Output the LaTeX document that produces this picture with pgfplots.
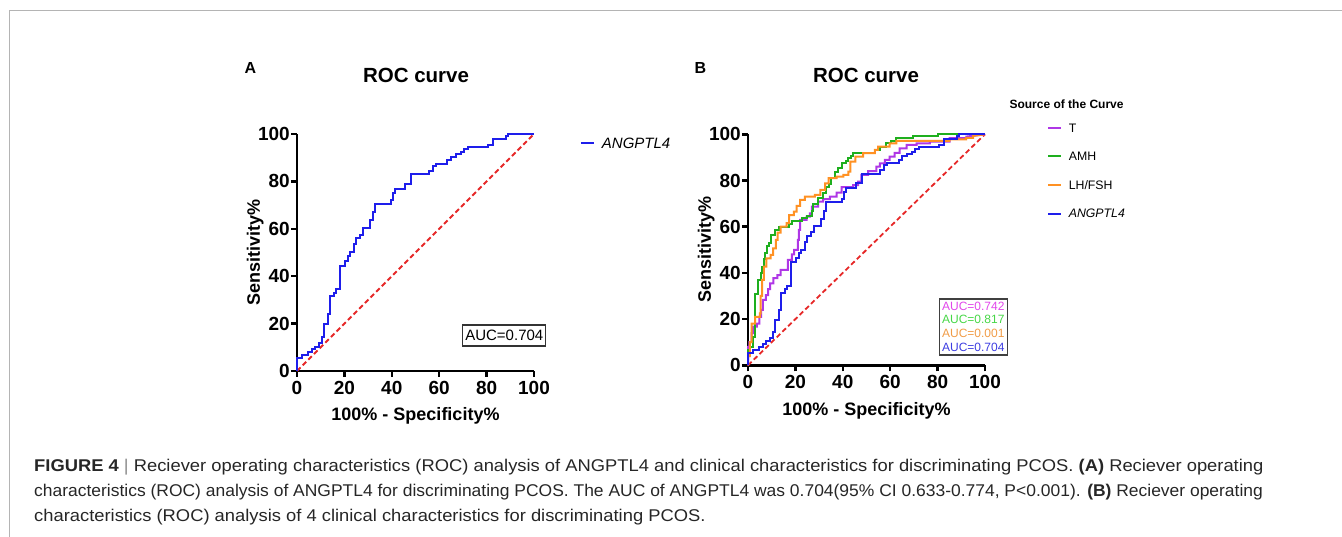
\documentclass[border=0pt]{standalone}
\usepackage{graphicx}
\usepackage{pgfplots}
\usepackage{pgfplotstable}
\pgfplotsset{compat=1.18}
\usepackage{fontspec}
\setmainfont{Liberation Sans}
\newfontfamily\capfont[FakeStretch=1.08]{Liberation Sans}
\definecolor{cBlue}{RGB}{30,30,235}
\definecolor{cT}{RGB}{175,55,230}
\definecolor{cAMH}{RGB}{30,175,30}
\definecolor{cLH}{RGB}{255,145,35}
\definecolor{cRed}{RGB}{230,40,40}
\definecolor{tT}{RGB}{225,70,235}
\definecolor{tAMH}{RGB}{70,215,70}
\definecolor{tLH}{RGB}{240,155,70}
\definecolor{tBlue}{RGB}{60,60,225}
\definecolor{frame}{RGB}{180,180,180}

\pgfplotstableread{
x y
0 0
100 100
}\diag

\pgfplotstableread{
x y
0 0
0 5.3
2.1 5.3
2.1 6.8
4.5 6.8
4.5 8.1
6.3 8.1
6.3 9.1
7.7 9.1
7.7 10.3
9.1 10.3
9.1 11.7
10.5 11.7
10.5 14.5
11.5 14.5
11.5 19.8
12.9 19.8
12.9 24
14.1 24
14.1 31.5
15.5 31.5
15.5 33
16.4 33
16.4 34.5
18.3 34.5
18.3 44.5
20.3 44.5
20.3 46.5
21.5 46.5
21.5 48.5
22.5 48.5
22.5 50
24 50
24 53.5
25 53.5
25 56
26.5 56
26.5 57.5
28 57.5
28 60.5
31 60.5
31 63.5
32 63.5
32 67
33 67
33 70.5
39.8 70.5
39.8 72
40.5 72
40.5 75
41.5 75
41.5 76.8
45.5 76.8
45.5 78.8
48 78.8
48 83
55.5 83
55.5 84.5
57.5 84.5
57.5 86.5
58.5 86.5
58.5 87.5
63.5 87.5
63.5 89
64.8 89
64.8 90.5
67 90.5
67 91.5
69 91.5
69 92.5
70.5 92.5
70.5 93.5
72 93.5
72 94.5
80.5 94.5
80.5 95.5
82.5 95.5
82.5 98
88 98
88 99.3
89 99.3
89 100
100 100
}\angptl

\pgfplotstableread{
x y
0 0
0 6.6
1 6.6
1 8
2.2 8
2.2 12.4
2.8 12.4
2.8 25
3 25
3 31
4.4 31
4.4 37
5.3 37
5.3 40
5.8 40
5.8 42.7
6.8 42.7
6.8 46
7.2 46
7.2 48.5
8.2 48.5
8.2 51.5
8.8 51.5
8.8 53
9.8 53
9.8 56.4
11.4 56.4
11.4 58.6
13 58.6
13 60
17.5 60
17.5 61
18.4 61
18.4 62.5
22.6 62.5
22.6 63.6
24.7 63.6
24.7 64.6
26.8 64.6
26.8 67
27.5 67
27.5 70
29.5 70
29.5 72.3
31.7 72.3
31.7 74.5
33 74.5
33 77
34 77
34 78.5
35 78.5
35 81
36.5 81
36.5 83.8
38 83.8
38 85.5
39.5 85.5
39.5 87.4
41.5 87.4
41.5 88.5
42.3 88.5
42.3 89.6
43.5 89.6
43.5 90.8
44.4 90.8
44.4 91.8
53.5 91.8
53.5 93.2
55.6 93.2
55.6 94.7
58.4 94.7
58.4 96.1
60.5 96.1
60.5 97.2
62.6 97.2
62.6 98.3
69.7 98.3
69.7 99.2
80.2 99.2
80.2 100
100 100
}\amh

\pgfplotstableread{
x y
0 0
0 4
0.8 4
0.8 10
1.5 10
1.5 18
3 18
3 21
5 21
5 22.5
5.3 22.5
5.3 30
6 30
6 37
6.7 37
6.7 42.7
7.8 42.7
7.8 46.3
9.5 46.3
9.5 47.8
10.6 47.8
10.6 50.6
11.8 50.6
11.8 54.3
12.5 54.3
12.5 57.4
13.8 57.4
13.8 60
16.3 60
16.3 61.5
17.3 61.5
17.3 65
19.4 65
19.4 66.5
20.5 66.5
20.5 69
22 69
22 71.6
24 71.6
24 73
28.2 73
28.2 73.8
30.5 73.8
30.5 75.9
32.5 75.9
32.5 78.8
34 78.8
34 81
37.4 81
37.4 81.7
40.2 81.7
40.2 82.4
42.3 82.4
42.3 83.8
43.2 83.8
43.2 88.2
45.3 88.2
45.3 90.3
48.6 90.3
48.6 91.8
53.5 91.8
53.5 93.2
54.9 93.2
54.9 94.7
59.8 94.7
59.8 96.1
62.6 96.1
62.6 97.2
85 97.2
85 97.8
92 97.8
92 98.5
95 98.5
95 99.3
100 100
}\lhfsh

\pgfplotstableread{
x y
0 0
0 8
0.6 8
0.6 10
1.5 10
1.5 13.9
2.2 13.9
2.2 16.7
3.7 16.7
3.7 18
4.8 18
4.8 21
5.5 21
5.5 24
6.3 24
6.3 28.3
7.5 28.3
7.5 30.4
8.5 30.4
8.5 33
9.3 33
9.3 35.5
10.7 35.5
10.7 37.7
12.4 37.7
12.4 39
13.8 39
13.8 41.3
16.8 41.3
16.8 45.6
18.5 45.6
18.5 48
19.5 48
19.5 50
21 50
21 54.3
21.5 54.3
21.5 58.6
22 58.6
22 62.9
24.7 62.9
24.7 64.4
26.1 64.4
26.1 65.8
27 65.8
27 68.7
29.6 68.7
29.6 70.9
31.7 70.9
31.7 71.9
34.5 71.9
34.5 73
37.4 73
37.4 74.7
39.5 74.7
39.5 77.1
44.4 77.1
44.4 78
46.5 78
46.5 79.5
47.8 79.5
47.8 82.4
50.7 82.4
50.7 84.1
54.2 84.1
54.2 86
55.6 86
55.6 87.4
57.7 87.4
57.7 88.9
59.8 88.9
59.8 90.3
61.9 90.3
61.9 92
64 92
64 93.9
66.9 93.9
66.9 95.4
71.1 95.4
71.1 96.1
76.7 96.1
76.7 96.8
85.1 96.8
85.1 98.3
92.1 98.3
92.1 99
100 100
}\tdata

\pgfplotsset{
  rocaxis/.style={
    scale only axis,
    xmin=0,xmax=100,ymin=0,ymax=100,
    axis x line=bottom, axis y line=left,
    axis line style={-, line width=2.5pt, black},
    x axis line style={-}, y axis line style={-},
    every tick/.style={line width=2.5pt, black},
    major tick length=6pt,
    tick align=outside,
    xtick={0,20,...,100}, ytick={0,20,...,100},
    /pgf/number format/assume math mode=true,
    ticklabel style={font=\fontsize{19}{19}\selectfont\bfseries},
    xticklabel style={inner sep=1pt, yshift=-3pt},
    yticklabel style={inner sep=1pt},
    label style={font=\fontsize{18}{18}\selectfont\bfseries},
    xlabel={100\% - Specificity\%},
    ylabel={Sensitivity\%},
    clip=false,
    legend image code/.code={\draw[#1,line width=2pt] (0pt,0pt) -- (13pt,0pt);},
  },
  curve/.style={line width=2pt, line join=miter},
  diagline/.style={cRed, line width=1.8pt, dash pattern=on 5pt off 3pt, forget plot},
}

\begin{document}
\begin{tikzpicture}
\useasboundingbox (0pt,0pt) rectangle (1342pt,537pt);
\draw[frame, line width=1pt] (9.3pt,0pt) -- (9.3pt,526pt) -- (1342pt,526pt);

% Panel A
\begin{axis}[rocaxis, at={(297pt,166pt)}, anchor=south west, width=237pt, height=237pt,
  xlabel style={yshift=-8pt}, ylabel style={yshift=-10pt},
  legend style={at={(axis description cs:1.194,0.961)}, anchor=west, draw=none, fill=none,
    inner sep=0pt, outer sep=0pt, column sep=7pt,
    nodes={inner sep=0pt, text height=10.7pt, text depth=0pt},
    font=\fontsize{15}{15}\selectfont\itshape},
  legend cell align=left]
\addplot[diagline] table[x=x,y=y] {\diag};
\addplot[curve, cBlue] table[x=x,y=y] {\angptl};
\addlegendentry{ANGPTL4}
\end{axis}

% Panel B
\begin{axis}[rocaxis, at={(748pt,171.7pt)}, anchor=south west, width=237pt, height=231pt,
  xlabel style={yshift=-9pt}, ylabel style={yshift=-10pt},
  legend style={at={(axis description cs:1.263,0.842)}, anchor=west, draw=none, fill=none,
    inner sep=0pt, outer sep=0pt, column sep=6.5pt, row sep=20pt,
    nodes={inner sep=0pt, text height=8.6pt, text depth=0pt},
    font=\fontsize{12.3}{12.3}\selectfont},
  legend cell align=left]
\addplot[diagline] table[x=x,y=y] {\diag};
\addplot[curve, cT] table[x=x,y=y] {\tdata};
\addlegendentry{T}
\addplot[curve, cAMH] table[x=x,y=y] {\amh};
\addlegendentry{AMH}
\addplot[curve, cLH] table[x=x,y=y] {\lhfsh};
\addlegendentry{LH/FSH}
\addplot[curve, cBlue] table[x=x,y=y] {\angptl};
\addlegendentry{\itshape ANGPTL4}
\end{axis}

% titles and labels
\node[font=\fontsize{20.5}{20.5}\selectfont\bfseries] at (416pt,461.7pt) {ROC curve};
\node[font=\fontsize{20.5}{20.5}\selectfont\bfseries] at (866pt,461.7pt) {ROC curve};
\node[font=\fontsize{16}{16}\selectfont\bfseries] at (250.3pt,468.7pt) {A};
\node[font=\fontsize{16}{16}\selectfont\bfseries] at (700.5pt,469pt) {B};
\node[font=\fontsize{12}{12}\selectfont\bfseries, anchor=west, inner sep=0pt] at (1009.3pt,433pt) {Source of the Curve};

\node[draw=black!80, line width=1.2pt, minimum width=83pt, minimum height=21pt, inner sep=0pt,
  font=\fontsize{15}{15}\selectfont] at (504.3pt,201.5pt) {AUC=0.704};
\node[draw=black!75, line width=1.5pt, minimum width=68pt, minimum height=56pt, inner sep=0pt,
  align=left, font=\fontsize{12}{13.9}\selectfont] at (973.3pt,210.2pt)
  {\textcolor{tT}{AUC=0.742}\\\textcolor{tAMH}{AUC=0.817}\\\textcolor{tLH}{AUC=0.001}\\\textcolor{tBlue}{AUC=0.704}};

% caption
\begin{scope}[every node/.style={anchor=base west, inner sep=0pt, font=\capfont\fontsize{17}{17}\selectfont, text=black!85}]
\node at (34pt,65pt) {\textbf{FIGURE 4} {\color{black!45}|} Reciever operating characteristics (ROC) analysis of ANGPTL4 and clinical characteristics for discriminating PCOS. \textbf{(A)} Reciever operating};
\node at (34pt,40pt) {\scalebox{0.951}[1]{characteristics (ROC) analysis of ANGPTL4 for discriminating PCOS. The AUC of ANGPTL4 was 0.704(95\% CI 0.633-0.774, P<0.001). \textbf{(B)} Reciever operating}};
\node at (34pt,15pt) {characteristics (ROC) analysis of 4 clinical characteristics for discriminating PCOS.};
\end{scope}
\end{tikzpicture}
\end{document}
